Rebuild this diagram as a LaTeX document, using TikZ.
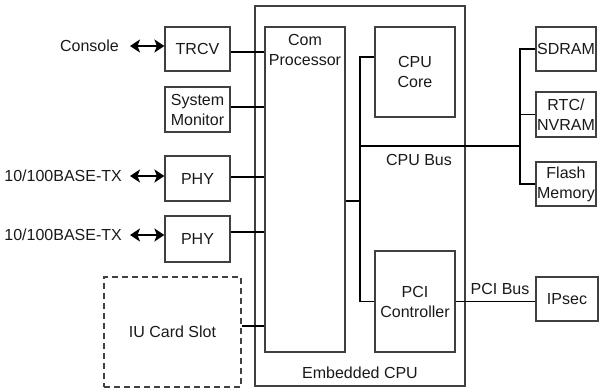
\documentclass[tikz,border=0pt]{standalone}
\usepackage{fontspec}
\setmainfont{Liberation Sans}
\usetikzlibrary{arrows.meta}
\begin{document}
\begin{tikzpicture}[x=1pt,y=-1pt,
  every node/.style={font=\fontsize{16}{20}\selectfont, text=black!90},
  box/.style={draw=black!75, line width=1.2pt, inner sep=0pt, align=center},
  dashbox/.style={box, dashed, dash pattern=on 6pt off 4pt},
  wire/.style={draw=black, line width=1.4pt},
  biarrow/.style={draw=black, line width=1.8pt, {Stealth[length=10pt,width=13pt,inset=2.5pt]}-{Stealth[length=10pt,width=13pt,inset=2.5pt]}},
  lbl/.style={inner sep=0pt, align=center}]
\useasboundingbox (0,0) rectangle (600,390);

% embedded CPU enclosure and its blocks
\node[box, minimum width=210pt, minimum height=380pt] (ecpu) at (360,196) {};
\node[lbl] (ecpulbl) at (360,373) {Embedded CPU};
\node[box, minimum width=80pt, minimum height=325pt] (com) at (305,189.5) {};
\node[lbl] (comlbl) at (305,50) {Com\\Processor};
\node[box, minimum width=80pt, minimum height=90pt] (core) at (415,72) {CPU\\Core};
\node[box, minimum width=80pt, minimum height=101pt] (pci) at (415,301.5) {PCI\\Controller};

% peripherals on the left
\node[box, minimum width=65pt, minimum height=44pt] (trcv) at (197.5,49) {TRCV};
\node[box, minimum width=65pt, minimum height=45pt] (sysmon) at (197.5,109.5) {System\\Monitor};
\node[box, minimum width=65pt, minimum height=45pt] (phya) at (197.5,178.5) {PHY};
\node[box, minimum width=65pt, minimum height=46pt] (phyb) at (197.5,239) {PHY};
\node[dashbox, minimum width=137pt, minimum height=110pt] (iu) at (172.5,332) {IU Card Slot};

% external labels
\node[lbl, anchor=east] (console) at (119,46) {Console};
\node[lbl, anchor=east] (etha) at (122,176) {10/100BASE-TX};
\node[lbl, anchor=east] (ethb) at (122,235) {10/100BASE-TX};

% memory and PCI devices on the right
\node[box, minimum width=60pt, minimum height=44pt] (sdram) at (566,49) {SDRAM};
\node[box, minimum width=60pt, minimum height=45pt] (rtc) at (566,114.5) {RTC/\\NVRAM};
\node[box, minimum width=60pt, minimum height=44pt] (flash) at (566,184) {Flash\\Memory};
\node[box, minimum width=62pt, minimum height=44pt] (ipsec) at (567,299) {IPsec};

\node[lbl] (cpubuslbl) at (419,160) {CPU Bus};
\node[lbl] (pcibuslbl) at (500,289) {PCI Bus};

% bus junction points
\coordinate (busx) at (360,0);
\coordinate (cpubus) at (360,146);
\coordinate (memx) at (520,146);

% start points of the external port arrows
\coordinate (acons) at ([xshift=11pt]console.east);
\coordinate (aetha) at ([xshift=8pt]etha.east);
\coordinate (aethb) at ([xshift=8pt]ethb.east);

% tap points on the left-hand blocks
\coordinate (ptrcv) at ([yshift=-3pt]trcv.east);
\coordinate (psysmon) at ([yshift=2.5pt]sysmon.east);
\coordinate (pphya) at ([yshift=1.5pt]phya.east);
\coordinate (pphyb) at ([yshift=7pt]phyb.east);
\coordinate (piu) at ([yshift=6pt]iu.east);
\coordinate (pcom) at ([yshift=-11.5pt]com.east);
\coordinate (pcore) at ([yshift=15pt]core.west);

% external ports
\draw[biarrow] (acons) -- (trcv.west |- acons);
\draw[biarrow] (aetha) -- (phya.west |- aetha);
\draw[biarrow] (aethb) -- (phyb.west |- aethb);

% links into the communications processor
\draw[wire] (ptrcv) -- (com.west |- ptrcv);
\draw[wire] (psysmon) -- (com.west |- psysmon);
\draw[wire] (pphya) -- (com.west |- pphya);
\draw[wire] (pphyb) -- (com.west |- pphyb);
\draw[wire] (piu) -- (com.west |- piu);

% internal CPU bus
\draw[wire] (pcore) -| (busx |- pci.west) -- (pci.west);
\draw[wire] (pcom) -- (busx |- pcom);
\draw[wire] (cpubus) -- (memx);
\draw[wire] (sdram.west) -| (memx |- flash.west) -- (flash.west);
\draw[wire] (rtc.west) -- (memx |- rtc.west);

% PCI bus
\draw[wire] (pci.east) -- (ipsec.west |- pci.east);
\end{tikzpicture}
\end{document}
